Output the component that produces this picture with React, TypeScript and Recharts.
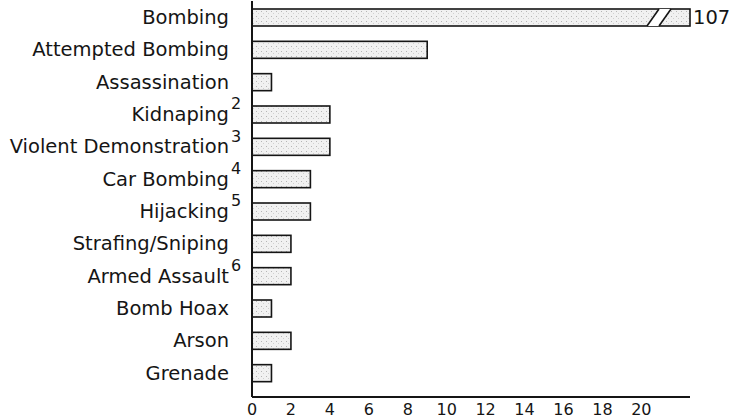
import { BarChart, Bar, XAxis, YAxis, LabelList } from 'recharts'

const categories = [
  'Bombing', 'Attempted Bombing', 'Assassination', 'Kidnaping',
  'Violent Demonstration', 'Car Bombing', 'Hijacking', 'Strafing/Sniping',
  'Armed Assault', 'Bomb Hoax', 'Arson', 'Grenade',
]
const notes = ['', '', '', '2', '3', '4', '5', '', '6', '', '', '']
const incidents = [107, 9, 1, 4, 4, 3, 3, 2, 2, 1, 2, 1]
const xTicks = [0, 2, 4, 6, 8, 10, 12, 14, 16, 18, 20]
const AXIS_MAX = 22.5 // bars past this are drawn broken

const data = categories.map((name, i) => ({
  name,
  note: notes[i],
  value: incidents[i],
  shown: Math.min(incidents[i], AXIS_MAX),
}))

const FONT = '"DejaVu Sans", Arial, sans-serif'
const INK = '#151515'

function CategoryTick(props: any) {
  const { x, y, payload, index } = props
  const note = data[index]?.note
  return (
    <g>
      <text x={x - 15} y={y} dy="0.35em" textAnchor="end" fontFamily={FONT} fontSize={19.5} fill={INK}>
        {payload.value}
      </text>
      {note ? (
        <text x={x - 13} y={y} dy="-0.3em" textAnchor="start" fontFamily={FONT} fontSize={16} fill={INK}>
          {note}
        </text>
      ) : null}
    </g>
  )
}

function BrokenBar(props: any) {
  const { x, y, width, height, payload } = props
  const broken = payload.value > AXIS_MAX
  return (
    <g>
      <rect x={x} y={y} width={width} height={height} fill="url(#stipple)" stroke={INK} strokeWidth={1.6} />
      {broken && (
        <g>
          <polygon
            points={`${x + width - 43},${y + height} ${x + width - 31},${y} ${x + width - 19},${y} ${x + width - 31},${y + height}`}
            fill="#fff"
          />
          <line x1={x + width - 43} y1={y + height} x2={x + width - 31} y2={y} stroke={INK} strokeWidth={1.6} />
          <line x1={x + width - 31} y1={y + height} x2={x + width - 19} y2={y} stroke={INK} strokeWidth={1.6} />
        </g>
      )}
    </g>
  )
}

function BreakLabel(props: any) {
  const { x, y, width, height, index } = props
  if (data[index].value <= AXIS_MAX) return null
  return (
    <text x={x + width + 3} y={y + height / 2} dy="0.35em" fontFamily={FONT} fontSize={19.5} fill={INK}>
      {data[index].value}
    </text>
  )
}

export default function App() {
  return (
    <div style={{ position: 'absolute', left: 0, top: 0, background: '#fff', width: 737, height: 420 }}>
      <BarChart
        width={737} height={420} data={data} layout="vertical"
        margin={{ top: 1, right: 47, bottom: 0, left: 0 }}
        barSize={17}
      >
        <defs>
          <pattern id="stipple" width="5" height="5" patternUnits="userSpaceOnUse">
            <rect width="5" height="5" fill="#f1f1f1" />
            <rect x="1" y="1" width="1" height="1" fill="#b5b5b5" />
            <rect x="3" y="3" width="1" height="1" fill="#d0d0d0" />
          </pattern>
        </defs>
        <XAxis
          type="number" domain={[0, AXIS_MAX]} ticks={xTicks} height={23}
          axisLine={{ stroke: INK, strokeWidth: 2 }} tickLine={false} tickMargin={1}
          tick={{ fill: INK, fontSize: 16, fontFamily: FONT }}
        />
        <YAxis
          type="category" dataKey="name" width={252}
          axisLine={{ stroke: INK, strokeWidth: 2 }} tickLine={false}
          padding={{ top: 0, bottom: 8 }} interval={0}
          tick={<CategoryTick />}
        />
        <Bar dataKey="shown" shape={<BrokenBar />} isAnimationActive={false}>
          <LabelList dataKey="value" content={<BreakLabel />} />
        </Bar>
      </BarChart>
    </div>
  )
}
